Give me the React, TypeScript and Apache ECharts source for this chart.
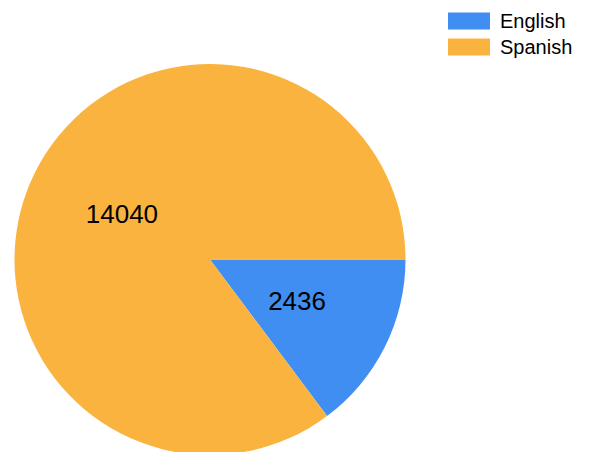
import React, { useEffect, useRef } from "react";
import * as echarts from "echarts";

const categories = ["English", "Spanish"];
const values = [2436, 14040];
const colors = ["#418EF2", "#FBB33F"];
const labelOffsets = [
  [-3, -4],
  [2, 0],
];

export default function App() {
  const ref = useRef<HTMLDivElement>(null);
  useEffect(() => {
    const chart = echarts.init(ref.current!, null, { renderer: "svg" });
    chart.setOption({
      animation: false,
      color: colors,
      legend: {
        data: categories,
        orient: "vertical",
        left: 448,
        top: 11,
        padding: 0,
        itemWidth: 42,
        itemHeight: 17,
        itemGap: 6,
        icon: "rect",
        textStyle: {
          fontFamily: "Liberation Sans",
          fontSize: 20,
          color: "#000",
          padding: [0, 0, 0, 5],
        },
      },
      series: [
        {
          type: "pie",
          center: [210, 259.5],
          radius: [0, 195.5],
          startAngle: 0,
          clockwise: true,
          label: {
            position: "inside",
            formatter: "{c}",
            fontFamily: "Liberation Sans",
            fontSize: 26,
            color: "#000",
          },
          labelLine: { show: false },
          emphasis: { disabled: true },
          itemStyle: { borderWidth: 0 },
          data: categories.map((name, i) => ({
            name,
            value: values[i],
            label: { offset: labelOffsets[i] },
          })),
        },
      ],
    });
    return () => chart.dispose();
  }, []);
  return (
    <div
      ref={ref}
      style={{ position: "fixed", left: 0, top: 0, width: 592, height: 452, background: "#fff" }}
    />
  );
}
